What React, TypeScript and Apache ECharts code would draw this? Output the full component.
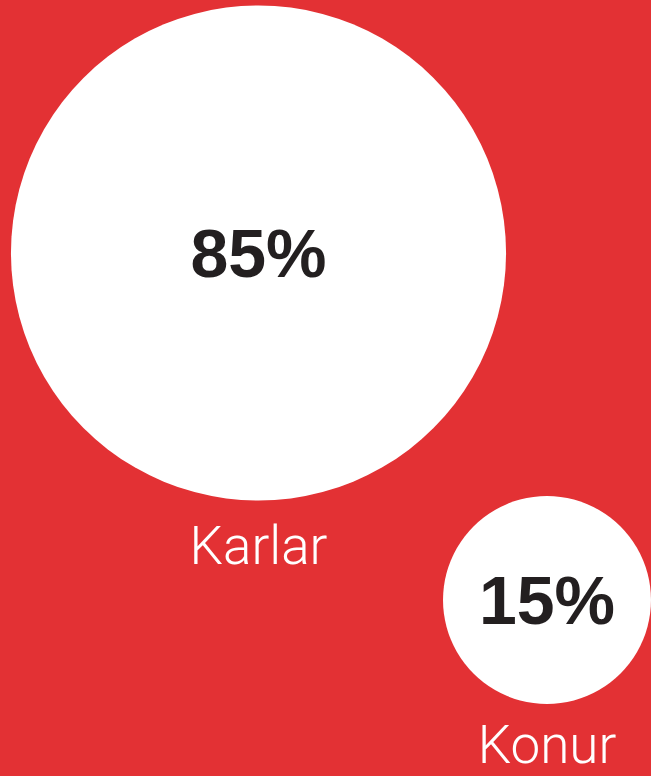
import React, { useEffect, useRef } from "react";
import * as echarts from "echarts";

const categories = ["Karlar", "Konur"];
const shares = [85, 15];

// layout (bubble centres in pixel space and label gaps) — kept separate from data
const centres: [number, number][] = [
  [258.5, 253],
  [547, 600],
];
const labelGaps = [25.5, 21.5];
const SCALE = 26.85; // radius = SCALE * sqrt(value)
const RED = "#E33134";

export default function App() {
  const ref = useRef<HTMLDivElement>(null);
  useEffect(() => {
    if (!ref.current) return;
    const chart = echarts.init(ref.current, null, { renderer: "svg" });
    const data = categories.map((name, i) => ({
      name,
      value: [centres[i][0], centres[i][1], shares[i]],
    }));
    const nameData = categories.map((name, i) => ({
      name,
      value: [centres[i][0], centres[i][1], shares[i]],
      label: { distance: labelGaps[i] },
    }));
    const size = (v: any) => 2 * SCALE * Math.sqrt(v[2]);
    chart.setOption({
      animation: false,
      backgroundColor: RED,
      grid: { left: 0, right: 0, top: 0, bottom: 0 },
      xAxis: { type: "value", min: 0, max: 651, show: false },
      yAxis: { type: "value", min: 0, max: 776, inverse: true, show: false },
      series: [
        {
          type: "scatter",
          data,
          symbolSize: size,
          itemStyle: { color: "#ffffff", opacity: 1 },
          label: {
            show: true,
            position: "inside",
            formatter: (p: any) => `${p.value[2]}%`,
            color: "#231f20",
            fontFamily: "Liberation Sans, Arial, sans-serif",
            fontWeight: "bold",
            fontSize: 68,
          },
          emphasis: { disabled: true },
          silent: true,
          z: 2,
        },
        {
          type: "scatter",
          data: nameData,
          symbolSize: size,
          itemStyle: { color: RED, opacity: 1 },
          label: {
            show: true,
            position: "bottom",
            formatter: (p: any) => p.name,
            color: "#ffffff",
            opacity: 1,
            fontFamily: "Roboto, sans-serif",
            fontWeight: 300,
            fontSize: 53,
            lineHeight: 40,
          },
          emphasis: { disabled: true },
          silent: true,
          z: 1,
        },
      ],
    });
    return () => chart.dispose();
  }, []);
  return (
    <div
      ref={ref}
      style={{ position: "fixed", left: 0, top: 0, width: 651, height: 776 }}
    />
  );
}
